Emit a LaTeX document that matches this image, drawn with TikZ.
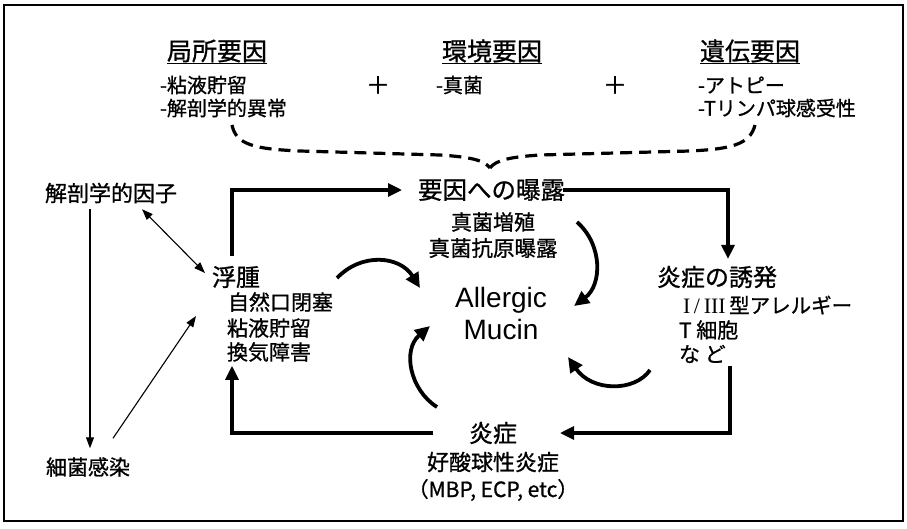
\documentclass[tikz,border=0pt]{standalone}
\usepackage{fontspec}
\setmainfont{Noto Sans CJK JP}[FakeBold=0.9]
\newfontfamily\arialf{Liberation Sans}
\newfontfamily\romanf{Liberation Serif}
\usetikzlibrary{arrows.meta,calc}
\begin{document}
\begin{tikzpicture}[x=1pt,y=-1pt,
  every node/.style={inner sep=0pt, outer sep=0pt},
  hdr/.style={font=\fontsize{25}{28}\selectfont, anchor=west},
  row/.style={font=\fontsize{20}{24}\selectfont, anchor=west},
  mainlbl/.style={font=\fontsize{24}{28}\selectfont, anchor=west},
  sublbl/.style={font=\fontsize{21}{25}\selectfont, anchor=west},
  sidelbl/.style={font=\fontsize{22}{26}\selectfont, anchor=west},
  ulin/.style={line width=1.3pt},
  thk/.style={line width=3.2pt, -{Triangle[length=14pt,width=13pt]}},
  thn/.style={line width=1.1pt, -{Triangle[length=11pt,width=8pt]}},
  thnb/.style={line width=1.1pt, {Triangle[length=11pt,width=8pt]}-{Triangle[length=11pt,width=8pt]}},
  crv/.style={line width=3.8pt, -{Triangle[length=15pt,width=14pt]}},
  bracestyle/.style={line width=3.2pt, dash pattern=on 12pt off 7pt}
]
\useasboundingbox (0,0) rectangle (907,528);
\draw[line width=1.2pt] (4,5) rectangle (903,521);

% top factors
\node[hdr] (h1) at (167,51) {局所要因};
\node[row] (r1a) at (160,85) {-粘液貯留};
\node[row] (r1b) at (160,108) {-解剖学的異常};
\node[font=\fontsize{24}{28}\selectfont] (p1) at (378,85) {＋};
\node[hdr] (h2) at (442,51) {環境要因};
\node[row] (r2a) at (436,85) {-真菌};
\node[font=\fontsize{24}{28}\selectfont] (p2) at (615,85) {＋};
\node[hdr] (h3) at (700,51) {遺伝要因};
\node[row] (r3a) at (698,85) {-アトピー};
\node[row] (r3b) at (698,108) {-Tリンパ球感受性};
\foreach \n in {h1,h2,h3}
  \draw[ulin] ($(\n.south west)+(0,1)$) -- ($(\n.south east)+(0,1)$);

% dashed brace
\coordinate (btip) at (490,168);
\coordinate (bl) at (232,125);
\coordinate (br) at (755,125);
\draw[bracestyle] (bl) .. controls (236,145) and (255,149) .. (300,151)
  -- (440,155) .. controls (470,157) and (484,160) .. (btip);
\draw[bracestyle] (br) .. controls (750,145) and (730,149) .. (690,151)
  -- (540,155) .. controls (510,157) and (496,160) .. (btip);

% left side
\node[sidelbl] (anat) at (45,193) {解剖学的因子};
\node[font=\fontsize{21}{25}\selectfont, anchor=west] (bact) at (46,467) {細菌感染};

% edema group
\node[mainlbl] (edema) at (212,277) {浮腫};
\node[sublbl] (e1) at (228,302) {自然口閉塞};
\node[sublbl] (e2) at (227,328) {粘液貯留};
\node[sublbl] (e3) at (227,352) {換気障害};

% exposure group
\node[font=\fontsize{24.5}{28}\selectfont, anchor=west] (expo) at (418,190) {要因への曝露};
\node[font=\fontsize{21}{25}\selectfont] (x1) at (493,222) {真菌増殖};
\node[font=\fontsize{21.5}{25}\selectfont] (x2) at (493,248) {真菌抗原曝露};

% induction group
\node[mainlbl] (ind) at (657,277) {炎症の誘発};
\node[font=\fontsize{20.5}{25}\selectfont, anchor=west] (i1) at (683,305) {{\romanf\fontsize{22}{25}\selectfont I\,/\,III}\,型アレルギー};
\node[sublbl] (i2) at (679,330) {T 細胞};
\node[sublbl] (i3) at (679,354) {な ど};

% inflammation group
\node[font=\fontsize{24}{28}\selectfont] (infl) at (493,433) {炎症};
\node[font=\fontsize{22}{26}\selectfont] (f1) at (493,462) {好酸球性炎症};
\node[font=\fontsize{21}{25}\selectfont] (f2) at (493,490) {（MBP, ECP, etc）};

% center
\node[font=\arialf\fontsize{28}{32}\selectfont, align=center] (mucin) at (501,313) {Allergic\\Mucin};

% thin arrows on the left
\draw[thn] ($(anat.south west)+(45,6)$) -- ($(bact.north west)+(44,-9)$);
\draw[thnb] ($(anat.south west)+(97,6)$) -- ($(edema.west)+(-7,-4)$);
\draw[thn] ($(bact.north east)+(-17,-19)$) -- ($(e2.west)+(-31,-12)$);

% main thick loop
\draw[thk] ($(edema.north west)+(20,-10)$) |- ($(expo.west)+(-16,0)$);
\draw[thk] ($(expo.east)+(-2,0)$) -| ($(ind.north west)+(71,-7)$);
\draw[thk] ($(i3.south west)+(51,3)$) |- ($(infl.east)+(43,0)$);
\draw[thk] ($(infl.west)+(-36,0)$) -| ($(e3.south west)+(5,4)$);

% curved arrows around Allergic Mucin
\coordinate (c1s) at (337,278); \coordinate (c1e) at (420,288);
\coordinate (c2s) at (577,222); \coordinate (c2e) at (574,306);
\coordinate (c3s) at (437,407); \coordinate (c3e) at (430,326);
\coordinate (c4s) at (650,370); \coordinate (c4e) at (568,357);
\draw[crv] (c1s) .. controls (362,252) and (400,256) .. (c1e);
\draw[crv] (c2s) .. controls (603,245) and (602,285) .. (c2e);
\draw[crv] (c3s) .. controls (410,390) and (402,350) .. (c3e);
\draw[crv] (c4s) .. controls (635,392) and (592,392) .. (c4e);
\end{tikzpicture}
\end{document}
